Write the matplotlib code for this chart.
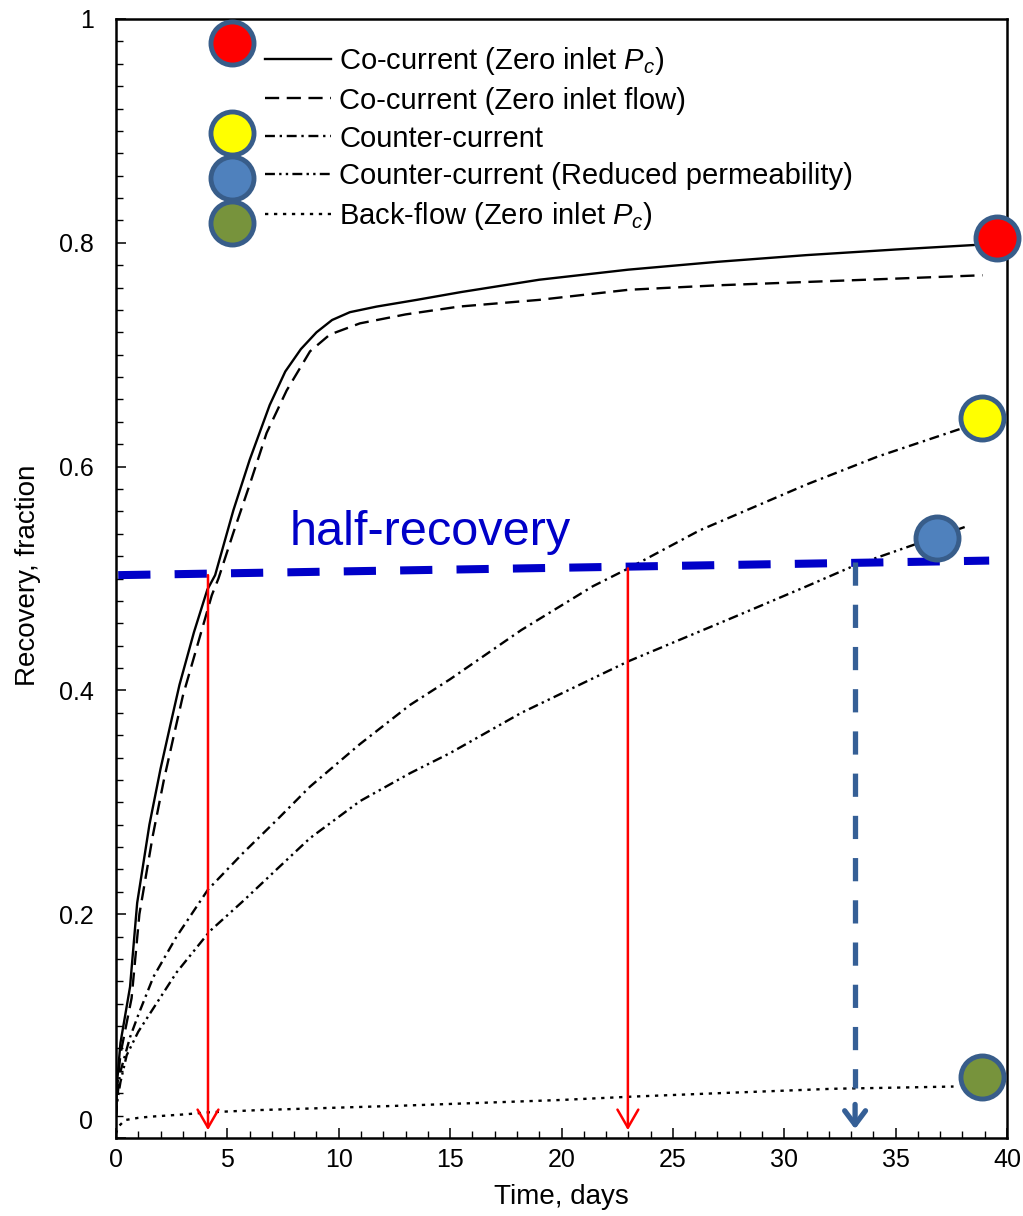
import matplotlib
matplotlib.use("Agg")
import matplotlib.pyplot as plt
from matplotlib.ticker import MultipleLocator, FixedLocator, FixedFormatter

plt.rcParams['font.family'] = ['Liberation Sans', 'DejaVu Sans']
plt.rcParams['mathtext.fontset'] = 'custom'
plt.rcParams['mathtext.it'] = 'Liberation Sans:italic'
plt.rcParams['mathtext.rm'] = 'Liberation Sans'

# ---------------- data ----------------
t_co_pc = [0, 0.05, 0.2, 0.63, 0.95, 1.5, 2.0, 2.45, 2.85, 3.5, 4.1, 4.45, 5.27, 6.0,
           6.9, 7.6, 8.3, 9.0, 9.7, 10.5, 11.7, 13.5, 15.5, 19, 23, 27, 31, 35, 38.5, 39.5]
r_co_pc = [0.02, 0.05, 0.085, 0.135, 0.21, 0.28, 0.33, 0.37, 0.405, 0.452, 0.49, 0.503,
           0.561, 0.606, 0.655, 0.685, 0.705, 0.72, 0.731, 0.738, 0.743, 0.749, 0.756,
           0.767, 0.776, 0.783, 0.789, 0.794, 0.798, 0.80]

t_co_flow = [0, 0.05, 0.2, 0.7, 1.05, 1.65, 2.15, 2.6, 3.0, 3.65, 4.3, 4.6, 5.27, 6.02,
             6.76, 7.66, 8.71, 9.6, 10.95, 13, 15.4, 19, 23, 27, 31, 35, 38.9]
r_co_flow = [0.02, 0.045, 0.075, 0.125, 0.2, 0.27, 0.32, 0.36, 0.395, 0.44, 0.485, 0.5,
             0.541, 0.585, 0.63, 0.668, 0.703, 0.718, 0.728, 0.736, 0.743, 0.749, 0.758,
             0.762, 0.765, 0.768, 0.771]

t_counter = [0, 0.05, 0.18, 0.63, 1.0, 1.68, 2.72, 4.13, 5.72, 7.21, 8.71, 10.95, 13.2,
             15.0, 18.2, 21.4, 23.0, 26.2, 31.0, 34.2, 37.8, 38.9]
r_counter = [0.02, 0.035, 0.058, 0.09, 0.11, 0.144, 0.18, 0.222, 0.255, 0.284, 0.314,
             0.352, 0.387, 0.41, 0.454, 0.493, 0.509, 0.543, 0.584, 0.609, 0.633, 0.64]

t_counter_k = [0, 0.05, 0.2, 0.48, 1.0, 1.68, 2.72, 4.22, 5.72, 7.21, 8.71, 10.95, 13.2,
               15.0, 18.2, 23.0, 27.8, 31.0, 33.2, 35.8, 38.1]
r_counter_k = [0.02, 0.032, 0.05, 0.074, 0.095, 0.116, 0.148, 0.185, 0.212, 0.24, 0.268,
               0.301, 0.326, 0.344, 0.38, 0.426, 0.466, 0.493, 0.512, 0.53, 0.546]

t_back = [0, 0.1, 0.4, 1.0, 1.5, 3.0, 4.2, 6.5, 9.75, 13, 17.2, 20, 23.2, 27, 32.2, 35, 37.6]
r_back = [0.004, 0.01, 0.016, 0.018, 0.019, 0.021, 0.023, 0.025, 0.027, 0.029, 0.032,
          0.034, 0.037, 0.040, 0.044, 0.045, 0.046]

labels = ['Co-current (Zero inlet $P_c$)', 'Co-current (Zero inlet flow)',
          'Counter-current', 'Counter-current (Reduced permeability)',
          'Back-flow (Zero inlet $P_c$)']

x_ticks = [0, 5, 10, 15, 20, 25, 30, 35, 40]
y_ticks = [0, 0.2, 0.4, 0.6, 0.8, 1.0]
y_tick_labels = ['', '0.2', '0.4', '0.6', '0.8', '1']

# half-recovery guide line (time, recovery)
half_t = [0.1, 39.2]
half_r = [0.503, 0.516]
# half-recovery times read at the crossing points
half_time_red = [4.13, 22.98]
half_time_red_top = [0.503, 0.509]
half_time_blue = 33.18
half_time_blue_top = 0.515

# coloured end-of-curve circles (time, recovery)
dot_t = [39.55, 38.88, 36.86, 38.88]
dot_r = [0.804, 0.643, 0.536, 0.0545]
dot_colors = ['#FF0000', '#FFFF00', '#4F81BD', '#77933C']
# legend-side circles (axes fraction)
leg_dot_x = [0.1302, 0.1302, 0.1302, 0.1302]
leg_dot_y = [0.9786, 0.8981, 0.8579, 0.8177]

edge_col = '#385D8A'

# ---------------- figure ----------------
fig = plt.figure(figsize=(10.23, 12.16), dpi=100)
ax = fig.add_axes([116/1023, 1 - 1138/1216, 891/1023, 1119/1216])
ax.set_xlim(0, 40)
ax.set_ylim(0, 1)

lw = 1.7
l1, = ax.plot(t_co_pc, r_co_pc, color='black', lw=lw, linestyle='-')
l2, = ax.plot(t_co_flow, r_co_flow, color='black', lw=lw, linestyle=(0, (6.0, 3.2)))
l3, = ax.plot(t_counter, r_counter, color='black', lw=lw, linestyle=(0, (4.2, 2.0, 1.0, 2.0)))
l4, = ax.plot(t_counter_k, r_counter_k, color='black', lw=lw,
              linestyle=(0, (4.2, 1.8, 1.0, 1.8, 1.0, 1.8)))
l5, = ax.plot(t_back, r_back, color='black', lw=lw, linestyle=(0, (1.4, 2.4)))

# half-recovery line
ax.plot(half_t, half_r, color='#0000C8', lw=5.8, linestyle=(0, (4.0, 3.0)),
        solid_capstyle='butt', dash_capstyle='butt')
ax.text(7.8, 0.530, 'half-recovery', color='#0000C8', fontsize=35, va='baseline', ha='left')

# red arrows
for tx, ty in zip(half_time_red, half_time_red_top):
    ax.annotate('', xy=(tx, 0.007), xytext=(tx, ty),
                arrowprops=dict(arrowstyle='->,head_length=1.3,head_width=0.75',
                                color='#FF0000', lw=1.8, shrinkA=0, shrinkB=0,
                                mutation_scale=10))

# blue dashed arrow
ax.plot([half_time_blue, half_time_blue], [half_time_blue_top, 0.045], color='#355F96',
        lw=3.8, linestyle=(0, (4.4, 3.6)), dash_capstyle='butt')
ax.annotate('', xy=(half_time_blue, 0.008), xytext=(half_time_blue, 0.03),
            arrowprops=dict(arrowstyle='->,head_length=1.0,head_width=0.75',
                            color='#355F96', lw=3.8, shrinkA=0, shrinkB=0,
                            mutation_scale=10))

# circles
for x, y, c in zip(dot_t, dot_r, dot_colors):
    ax.plot([x], [y], 'o', ms=31, mfc=c, mec=edge_col, mew=3.5, clip_on=False, zorder=5)
for x, y, c in zip(leg_dot_x, leg_dot_y, dot_colors):
    ax.plot([x], [y], 'o', ms=31, mfc=c, mec=edge_col, mew=3.5, clip_on=False, zorder=5,
            transform=ax.transAxes)

# legend
leg = ax.legend([l1, l2, l3, l4, l5], labels, loc='upper left',
                bbox_to_anchor=(0.1672, 0.977), frameon=False, fontsize=21,
                handlelength=2.25, handletextpad=0.3, labelspacing=0.34,
                borderpad=0, borderaxespad=0)

# ticks
ax.xaxis.set_major_locator(FixedLocator(x_ticks))
ax.xaxis.set_minor_locator(MultipleLocator(1))
ax.yaxis.set_major_locator(FixedLocator(y_ticks))
ax.yaxis.set_major_formatter(FixedFormatter(y_tick_labels))
ax.yaxis.set_minor_locator(MultipleLocator(0.02))
ax.tick_params(axis='both', which='both', direction='in', top=False, right=False)
ax.tick_params(axis='both', which='major', length=7.5, width=1.1, labelsize=18)
ax.tick_params(axis='both', which='minor', length=5, width=1.0)
ax.tick_params(axis='x', which='major', pad=7)
ax.tick_params(axis='y', which='major', pad=16)
ax.annotate('0', xy=(0, 0), xycoords=('axes fraction', 'data'), xytext=(-23, 16),
            textcoords='offset pixels', ha='right', va='center', fontsize=18)
for s in ax.spines.values():
    s.set_linewidth(1.8)

ax.set_xlabel('Time, days', fontsize=20)
ax.set_ylabel('Recovery, fraction', fontsize=20)
ax.xaxis.set_label_coords(0.5, -0.0527)
ax.xaxis.label.set_va('center')
ax.yaxis.set_label_coords(-0.0988, 0.503)
ax.yaxis.label.set_va('center')

fig.savefig('out.png', dpi=100)
